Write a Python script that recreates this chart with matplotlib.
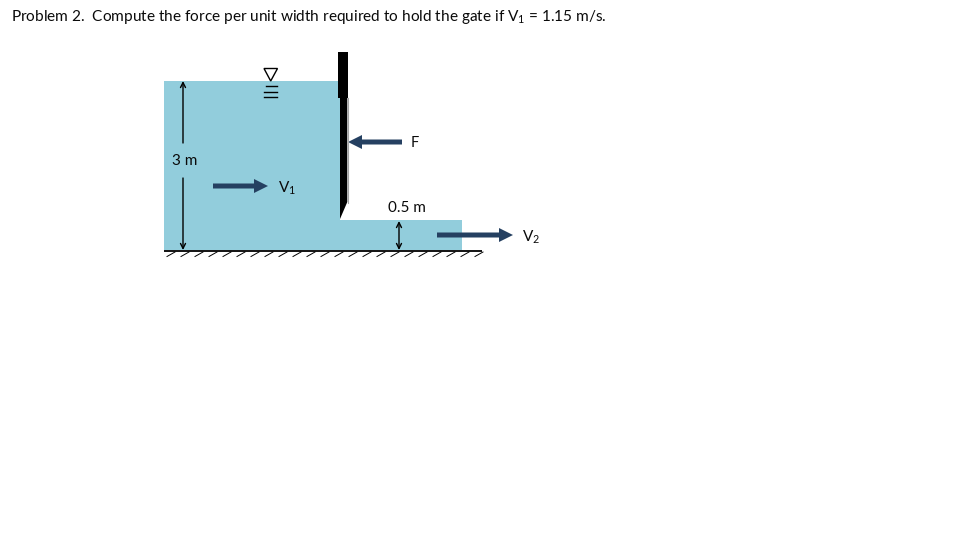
import matplotlib
matplotlib.use("Agg")
import matplotlib.pyplot as plt
from matplotlib.patches import Polygon

plt.rcParams["font.family"] = ["Lato", "DejaVu Sans"]
plt.rcParams["mathtext.fontset"] = "custom"
plt.rcParams["mathtext.rm"] = "Lato"
plt.rcParams["mathtext.default"] = "rm"

# everything in pixels
WATER = "#92CDDC"
ARROW = "#254061"
TEXT = "#0a0a0a"

water_x = [164, 340, 340, 462, 462, 164]
water_y = [81, 81, 220, 220, 250, 250]
gate_x = [338, 348, 348, 347.3, 347.3, 340, 340, 338]
gate_y = [52, 52, 98, 98, 202, 219, 98, 98]
hatch_x = list(range(167, 482, 14))
# x start, x end, y
flow_arrows = [(213, 268, 186), (437, 513, 235), (402, 348, 142)]
# x, y tail, y tip, arrow style
dim_arrows = [(183, 143, 81, "->"), (183, 178, 250, "->"), (399, 250, 221, "<->")]
labels = [("V$_1$", 278, 188, "left", 11), ("V$_2$", 522, 237, "left", 11), ("F", 415, 143, "center", 10.5),
          ("3 m", 184.5, 161, "center", 11), ("0.5 m", 407, 208, "center", 11)]
level_y = [86, 92, 97]

fig = plt.figure(figsize=(9.6, 5.4), dpi=100)
ax = fig.add_axes([0, 0, 1, 1])
ax.set_xlim(0, 960)
ax.set_ylim(540, 0)
ax.axis("off")

ax.add_patch(Polygon(list(zip(water_x, water_y)), fc=WATER, ec="none"))
ax.plot([347.8, 347.8], [98, 203], color="#a6a6a6", lw=0.8)
ax.add_patch(Polygon(list(zip(gate_x, gate_y)), fc="black", ec="none"))

# ground and hatch
ax.plot([164, 482], [250.7, 250.7], color="black", lw=1.3, solid_capstyle="butt")
for hx in hatch_x:
    ax.plot([hx, hx + 8], [256.5, 252], color="black", lw=0.7)

# flow arrows
for x0, x1, y in flow_arrows:
    d = 1 if x1 > x0 else -1
    ax.arrow(x0, y, x1 - x0 - d * 14, 0, width=5, head_width=14, head_length=14,
             length_includes_head=False, fc=ARROW, ec="none")

# dimension arrows
for x, y0, y1, style in dim_arrows:
    ax.annotate("", xy=(x, y1), xytext=(x, y0),
                arrowprops=dict(arrowstyle=style, color="black", lw=1, shrinkA=0, shrinkB=0,
                                mutation_scale=9))

for s, x, y, ha, size in labels:
    ax.text(x, y, s, fontsize=size, color=TEXT, va="center", ha=ha)

# water level sign
ax.add_patch(Polygon([(264, 68.5), (277.5, 68.5), (270.7, 81)], fc="white", ec="black", lw=1))
for y, x0, x1 in zip(level_y, [266, 264, 264], [277, 277, 277]):
    ax.plot([x0, x1], [y, y], color="black", lw=1)

ax.text(11, 16.5, "Problem 2.  Compute the force per unit width required to hold the gate if V$_1$ = 1.15 m/s.",
        fontsize=11.09, color=TEXT, ha="left", va="center")

fig.savefig("out.png", dpi=100)
